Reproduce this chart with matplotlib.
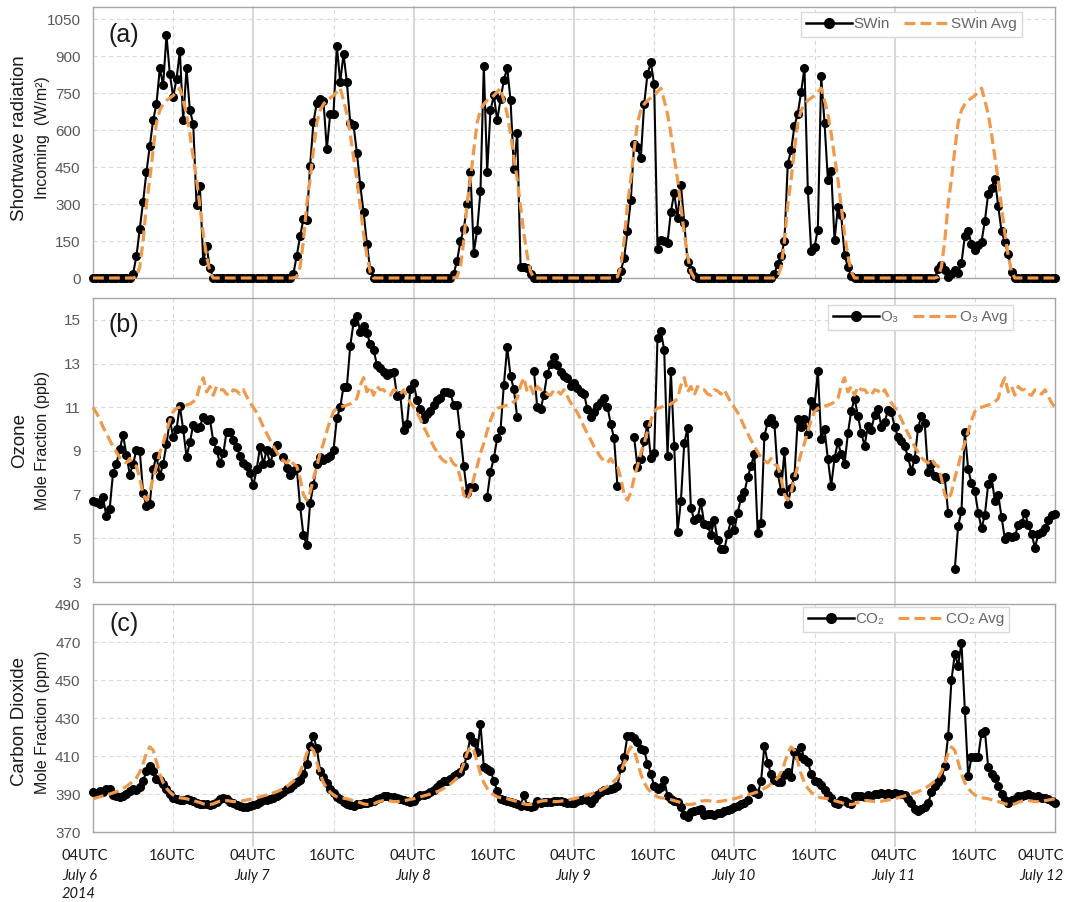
import numpy as np
import matplotlib.pyplot as plt
from matplotlib.lines import Line2D

nan = np.nan

# half-hourly values, each day list starts at 04UTC (July 6 ... July 11)
swin_jul6 = [0, 0, 0, 0, 0, 0, 0, 0, 0, 0, 0, 0,
             18, 88, 200, 310, 430, 535, 640, 705, 850, 783, 985, 827,
             735, 806, 921, 640, 850, 680, 626, 295, 372, 69, 128, 40,
             0, 0, 0, 0, 0, 0, 0, 0, 0, 0, 0, 0]
swin_jul7 = [0, 0, 0, 0, 0, 0, 0, 0, 0, 0, 0, 0,
             18, 90, 170, 238, 234, 455, 633, 710, 725, 717, 522, 664,
             667, 942, 795, 908, 795, 630, 620, 508, 376, 268, 139, 34,
             0, 0, 0, 0, 0, 0, 0, 0, 0, 0, 0, 0]
swin_jul8 = [0, 0, 0, 0, 0, 0, 0, 0, 0, 0, 0, 0,
             18, 70, 150, 197, 300, 428, 103, 193, 353, 859, 430, 680,
             741, 640, 724, 802, 852, 721, 444, 586, 45, 45, 40, 18,
             0, 0, 0, 0, 0, 0, 0, 0, 0, 0, 0, 0]
swin_jul9 = [0, 0, 0, 0, 0, 0, 0, 0, 0, 0, 0, 0, 0, 0,
             28, 80, 190, 315, 545, 530, 485, 705, 827, 874, 785, 119,
             155, 150, 143, 268, 345, 245, 379, 225, 65, 34, 8,
             0, 0, 0, 0, 0, 0, 0, 0, 0, 0, 0]
swin_jul10 = [0, 0, 0, 0, 0, 0, 0, 0, 0, 0, 0, 0,
              18, 58, 88, 150, 464, 518, 616, 667, 755, 852, 358, 110,
              126, 196, 818, 629, 399, 434, 153, 288, 254, 92, 45, 7,
              0, 0, 0, 0, 0, 0, 0, 0, 0, 0, 0, 0]
swin_jul11 = [0, 0, 0, 0, 0, 0, 0, 0, 0, 0, 0, 0, 0,
              38, 51, 31, 5, 18, 34, 20, 62, 169, 189, 139, 115,
              133, 147, 231, 342, 367, 400, 292, 189, 146, 96, 24,
              0, 0, 0, 0, 0, 0, 0, 0, 0, 0, 0, 0]
swin_last = [0]

# mean diurnal cycle (same every day)
swin_avg_day = [0, 0, 0, 0, 0, 0, 0, 0, 0, 0, 0, 0, 0,
                5, 45, 150, 300, 400, 520, 630, 680, 705, 720, 730,
                740, 755, 770, 720, 665, 585, 490, 400, 290, 180, 90, 25,
                0, 0, 0, 0, 0, 0, 0, 0, 0, 0, 0, 0]

o3_jul6 = [6.72, 6.67, 6.58, 6.87, 6.01, 6.36, 8.0, 8.4, 9.07, 9.73,
           8.81, 7.92, 8.4, 9.04, 9.01, 7.08, 6.47, 6.59, 8.17, 8.78,
           7.85, 8.4, 9.31, 10.41, 9.65, 9.99, 11.06, 9.99, 8.73, 9.39,
           10.19, 10.03, 10.11, 10.57, 10.42, 10.45, 9.45, 9.04, 8.43, 8.89,
           9.88, 9.88, 9.5, 9.19, 8.78, 8.43, 8.31, 7.97]
o3_jul7 = [7.43, 8.15, 9.19, 8.4, 9.04, 8.43, 8.93, 9.27, nan, 8.7,
           8.2, 7.9, 8.1, 8.2, 6.47, 5.14, 4.68, 6.6, 7.43, 8.4,
           8.73, 8.6, 8.67, 8.78, 9.04, 10.49, 11.0, 11.94, 11.94, 13.78,
           14.88, 15.19, 14.44, 14.74, 14.39, 13.89, 13.63, 12.94, 12.79, 12.63,
           12.48, 12.56, 12.63, 11.52, 11.55, 9.96, 10.24, 11.82]
o3_jul8 = [12.1, 11.33, 10.9, 10.45, 10.69, 10.85, 11.1, 11.33, 11.41, 11.72,
           11.72, 11.65, 11.1, 11.1, 9.77, 8.3, 7.08, 7.33, 7.33, nan,
           nan, nan, 6.9, 8.05, 8.66, 9.58, 9.96, 12.02, 13.75, 12.43,
           11.82, 10.54, nan, nan, nan, nan, 12.68, 11.0, 10.9, 11.57,
           12.53, 12.98, 13.3, 12.95, 12.6, 12.45, 12.34, 11.99]
o3_jul9 = [12.1, 11.87, 11.7, 11.6, 10.92, 10.57, 10.77, 11.07, 11.23, 11.43,
           11.03, 10.23, 9.57, 7.4, nan, nan, nan, nan, 9.62, 8.28,
           8.63, 9.44, 10.23, 8.67, 8.89, 14.18, 14.48, 13.63, 8.78, 12.65,
           9.24, 5.31, 6.69, 9.35, 10.05, 6.38, 5.83, 5.92, 6.64, 5.65,
           5.61, 5.16, 5.83, 4.91, 4.5, 4.5, 5.19, 5.83]
o3_jul10 = [5.37, 6.18, 6.84, 7.1, 7.79, 8.32, 8.86, 5.26, 5.72, 9.7,
            10.31, 10.51, 10.23, 7.97, 7.17, 8.98, 6.56, 7.3, 7.86, 10.46,
            10.08, 10.46, 9.77, 11.3, 11.03, 12.68, 9.54, 10.0, 8.63, 7.4,
            8.67, 9.39, 8.86, 8.4, 9.8, 10.84, 11.38, 10.62, 9.8, 9.24,
            10.16, 9.96, 10.66, 10.92, 10.11, 10.31, 10.87, 10.77]
o3_jul11 = [10.11, 9.62, 9.44, 9.24, 8.7, 8.09, 8.63, 10.05, 10.61, 10.26,
            8.02, 8.4, 7.86, 7.79, 7.71, 7.79, 6.18, nan, 3.58, 5.57,
            6.23, 9.85, 8.17, 7.51, 7.17, 6.18, 5.46, 6.07, 7.48, 7.82,
            6.69, 6.99, 5.98, 4.96, 5.11, 5.06, 5.11, 5.61, 5.68, 6.18,
            5.61, 5.19, 4.57, 5.19, 5.31, 5.46, 5.83, 6.07]
o3_last = [6.1]

o3_avg_day = [11.0, 10.75, 10.45, 10.1, 9.8, 9.5, 9.2, 8.95, 8.7, 8.55,
              8.45, 8.65, 8.4, 8.3, 7.75, 7.0, 6.75, 7.1, 7.75, 8.3,
              8.9, 9.35, 9.9, 10.4, 10.8, 10.95, 11.0, 11.05, 11.1, 11.15,
              11.25, 11.4, 12.0, 12.35, 11.7, 11.95, 11.55, 11.95, 11.8, 11.8,
              11.6, 11.55, 11.8, 11.75, 11.6, 11.8, 11.5, 11.2]

co2_jul6 = [391.3, 390.3, 391.8, 391.3, 392.6, 392.6, 389.6, 389.0, 388.5, 389.0,
            390.0, 391.5, 392.4, 392.2, 393.5, 397.0, 402.0, 404.5, 402.0, 398.0,
            397.5, 395.5, 392.6, 389.9, 388.1, 387.3, 386.9, 386.9, 387.3, 386.9,
            386.4, 385.5, 384.6, 384.6, 384.6, 384.1, 384.6, 386.0, 387.6, 388.1,
            387.3, 385.9, 385.2, 384.1, 383.7, 382.9, 383.4, 383.7]
co2_jul7 = [384.0, 385.0, 386.0, 386.6, 387.0, 387.4, 388.0, 388.7, 389.9, 391.1,
            392.6, 393.4, 395.0, 396.5, 397.5, 400.5, 405.8, 415.5, 420.4, 414.0,
            402.2, 399.0, 396.0, 392.5, 390.3, 388.5, 387.2, 386.0, 385.0, 384.3,
            383.7, 384.6, 384.6, 385.2, 385.5, 385.9, 386.5, 387.2, 388.0, 388.8,
            388.7, 388.5, 388.2, 388.0, 387.5, 386.9, 386.5, 385.9]
co2_jul8 = [386.5, 388.5, 389.4, 389.6, 389.9, 390.8, 392.0, 393.5, 395.5, 397.0,
            397.0, 398.0, 399.5, 400.5, 401.4, 404.5, 410.5, 420.4, 417.2, 412.0,
            426.9, 404.0, 403.1, 402.2, 397.0, 391.7, 387.6, 386.9, 386.4, 385.9,
            385.5, 384.5, 383.7, 389.4, 383.7, 382.9, 383.5, 386.4, 385.5, 386.0,
            385.8, 386.0, 386.4, 386.2, 386.4, 386.0, 385.5, 385.1]
co2_jul9 = [385.5, 386.5, 386.9, 387.6, 387.0, 385.5, 387.5, 389.4, 391.1, 392.3,
            392.2, 392.5, 393.4, 394.3, 403.5, 409.3, 420.4, 420.7, 419.3, 417.2,
            413.7, 413.3, 405.7, 400.5, 394.3, 392.5, 393.9, 397.5, 389.0, 387.6,
            386.4, 385.8, 383.0, 378.8, 378.1, 380.6, 381.1, 381.6, 382.0, 378.8,
            379.3, 379.3, 378.8, 379.9, 380.2, 381.1, 381.6, 382.3]
co2_jul10 = [382.9, 383.7, 384.6, 385.5, 386.9, 393.4, 390.8, 389.9, 396.9, 415.4,
             406.3, 400.5, 397.5, 396.4, 396.4, 399.9, 401.7, 399.2, 412.3, 409.8,
             414.5, 408.4, 407.0, 400.5, 396.9, 396.4, 394.6, 392.2, 389.4, 388.1,
             385.5, 384.6, 386.9, 386.4, 385.5, 385.0, 388.7, 388.7, 389.0, 388.3,
             389.3, 389.0, 389.9, 389.9, 390.4, 389.9, 390.4, 389.9]
co2_jul11 = [390.4, 389.9, 389.9, 389.4, 387.3, 385.5, 382.0, 381.1, 382.0, 382.9,
             385.1, 390.8, 394.3, 396.4, 398.2, 404.9, 420.4, 449.8, 463.8, 457.5,
             469.6, 434.4, 399.6, 409.3, 409.5, 409.5, 422.1, 423.3, 404.0, 400.5,
             398.2, 394.3, 389.9, 386.9, 385.5, 386.9, 387.6, 388.7, 389.0, 389.4,
             389.9, 388.7, 388.1, 388.7, 388.1, 388.1, 387.6, 386.4]
co2_last = [385.1]

co2_avg_day = [387.5, 388.0, 388.5, 389.0, 389.5, 390.0, 390.6, 391.2, 392.0, 393.0,
               394.0, 395.3, 396.8, 398.5, 401.5, 406.0, 411.5, 414.8, 413.0, 407.0,
               400.5, 396.0, 393.0, 391.0, 389.5, 388.5, 388.0, 387.8, 387.5, 387.0,
               386.5, 386.0, 385.5, 384.8, 384.5, 384.5, 384.8, 385.6, 386.2, 386.5,
               386.5, 386.3, 386.0, 386.0, 386.2, 386.5, 386.8, 387.2]

tick_hours = [0, 12, 24, 36, 48, 60, 72, 84, 96, 108, 120, 132, 144]
tick_utc = ["04UTC", "16UTC"] * 6 + ["04UTC"]
day_labels = ["July 6", "July 7", "July 8", "July 9", "July 10", "July 11", "July 12"]

n_days = 6
hours = np.arange(n_days * 48 + 1) * 0.5

swin = np.array(swin_jul6 + swin_jul7 + swin_jul8 + swin_jul9 + swin_jul10 + swin_jul11 + swin_last, float)
o3 = np.array(o3_jul6 + o3_jul7 + o3_jul8 + o3_jul9 + o3_jul10 + o3_jul11 + o3_last, float)
co2 = np.array(co2_jul6 + co2_jul7 + co2_jul8 + co2_jul9 + co2_jul10 + co2_jul11 + co2_last, float)

# the averages are one diurnal cycle repeated for each day
swin_avg = np.array(swin_avg_day * n_days + swin_avg_day[:1], float)
o3_avg = np.array(o3_avg_day * n_days + o3_avg_day[:1], float)
co2_avg = np.array(co2_avg_day * n_days + co2_avg_day[:1], float)

plt.rcParams["font.family"] = ["Liberation Sans", "DejaVu Sans"]

W, H = 1067, 902
fig = plt.figure(figsize=(W / 100, H / 100), dpi=100)


def px_axes(left, top, right, bottom):
    return fig.add_axes([left / W, 1 - bottom / H, (right - left) / W, (bottom - top) / H])


orange = "#EF994C"
grid_col = "#dadada"
spine_col = "#a6a6a6"

panels = [
    dict(box=(93, 7, 1055, 278), y=swin, avg=swin_avg, ylim=(0, 1099),
         yticks=np.arange(0, 1051, 150), letter="(a)", letter_y=35,
         names=("SWin", "SWin Avg"), leg=(801, 12),
         title=("Shortwave radiation", "Incoming  (W/m²)"), title_y=138),
    dict(box=(93, 298, 1055, 582), y=o3, avg=o3_avg, ylim=(3, 16),
         yticks=np.arange(3, 16, 2), letter="(b)", letter_y=325,
         names=("O₃", "O₃ Avg"), leg=(828, 305),
         title=("Ozone", "Mole Fraction (ppb)"), title_y=440),
    dict(box=(93, 604, 1055, 832), y=co2, avg=co2_avg, ylim=(370, 490),
         yticks=np.arange(370, 491, 20), letter="(c)", letter_y=624,
         names=("CO₂", "CO₂ Avg"), leg=(803, 607),
         title=("Carbon Dioxide", "Mole Fraction (ppm)"), title_y=722),
]

axes = []
for p in panels:
    l, t, r, b = p["box"]
    ax = px_axes(l, t, r, b)
    ax.patch.set_visible(False)
    ax.set_xlim(0, 144)
    ax.set_ylim(*p["ylim"])
    ax.set_yticks(p["yticks"])
    ax.set_xticks(tick_hours)
    ax.set_xticklabels([])
    ax.grid(True, color=grid_col, linestyle=(0, (4, 3)), linewidth=0.8)
    ax.set_axisbelow(True)
    ax.tick_params(axis="both", length=0)
    ax.tick_params(axis="y", pad=9, labelsize=11, labelcolor="#595959")
    for s in ax.spines.values():
        s.set_color(spine_col)
        s.set_linewidth(1.0)

    ax.plot(hours, p["y"], color="black", lw=1.5, marker="o", ms=5.5,
            clip_on=False, zorder=3)
    ax.plot(hours, p["avg"], color=orange, lw=2.3, linestyle="--",
            dashes=(3.4, 1.6), clip_on=False, zorder=4)

    handles = [Line2D([], [], color="black", lw=1.8, marker="o", ms=7),
               Line2D([], [], color=orange, lw=2.3, linestyle="--", dashes=(3.4, 1.6))]
    lx, ly = p["leg"]
    leg = ax.legend(handles, p["names"], ncol=2, loc="upper left",
                    bbox_to_anchor=((lx - l) / (r - l), (b - ly) / (b - t)),
                    fontsize=11, labelcolor="#666666", frameon=True, fancybox=False,
                    edgecolor="#d9d9d9", framealpha=1, handlelength=3.0,
                    handletextpad=0.1, columnspacing=0.9, borderpad=0.35,
                    borderaxespad=0)
    leg.get_frame().set_linewidth(1.0)
    leg.set_zorder(10)

    fig.text(124 / W, 1 - p["letter_y"] / H, p["letter"], fontsize=18,
             ha="center", va="center", color="#1a1a1a")
    fig.text(20 / W, 1 - p["title_y"] / H, p["title"][0], rotation=90,
             fontsize=13.5, ha="center", va="center", color="#1a1a1a")
    fig.text(43 / W, 1 - p["title_y"] / H, p["title"][1], rotation=90,
             fontsize=11.5, ha="center", va="center", color="#1a1a1a")
    axes.append(ax)

# solid day separators at 04UTC, running through all three panels
ax_c = axes[-1]
x0, x1 = 93, 1055
for h in tick_hours[2:-1:2]:
    xp = x0 + h / 144 * (x1 - x0)
    fig.add_artist(Line2D([xp / W, xp / W], [1 - 7 / H, 1 - 846 / H],
                          transform=fig.transFigure, color="#cfcfcf", lw=1.2,
                          zorder=-1))

# x labels under the bottom panel
xfont = dict(family=["Lato", "DejaVu Sans"], fontsize=10.5, color="#1a1a1a")
for i, h in enumerate(tick_hours):
    if i == 0:
        ha, dx = "left", -31
    elif i == len(tick_hours) - 1:
        ha, dx = "right", 9
    else:
        ha, dx = "center", -1
    ax_c.annotate(tick_utc[i], xy=(h, 0), xycoords=("data", "axes fraction"),
                  xytext=(dx, -24), textcoords="offset pixels", ha=ha, va="center",
                  **xfont)
    if i % 2 == 0:
        ax_c.annotate(day_labels[i // 2], xy=(h, 0), xycoords=("data", "axes fraction"),
                      xytext=(dx, -44), textcoords="offset pixels", ha=ha, va="center",
                      style="italic", **xfont)
ax_c.annotate("2014", xy=(0, 0), xycoords=("data", "axes fraction"),
              xytext=(-31, -62), textcoords="offset pixels", ha="left", va="center",
              style="italic", **xfont)

fig.savefig("out.png", dpi=100, facecolor="white")
